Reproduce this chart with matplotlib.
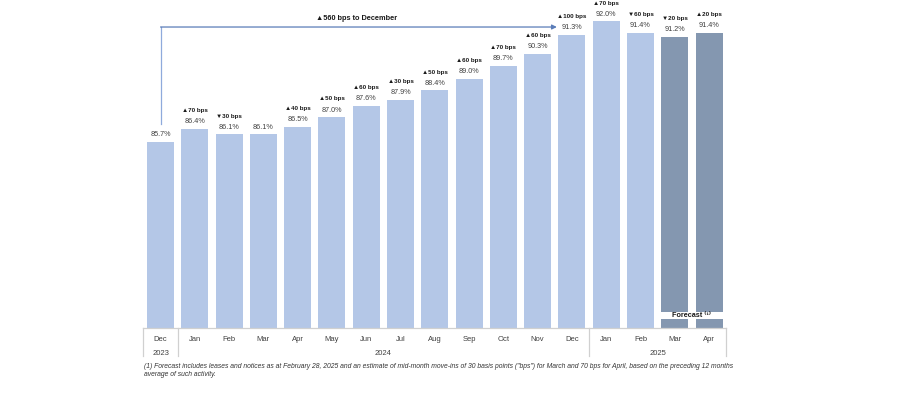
import numpy as np
import matplotlib.pyplot as plt
from matplotlib.patches import Rectangle

plt.rcParams['font.family'] = ['Liberation Sans', 'DejaVu Sans']

months = ["Dec", "Jan", "Feb", "Mar", "Apr", "May", "Jun", "Jul", "Aug",
          "Sep", "Oct", "Nov", "Dec", "Jan", "Feb", "Mar", "Apr"]
values = [85.7, 86.4, 86.1, 86.1, 86.5, 87.0, 87.6, 87.9, 88.4,
          89.0, 89.7, 90.3, 91.3, 92.0, 91.4, 91.2, 91.4]
changes = [None, "▲70 bps", "▼30 bps", None, "▲40 bps", "▲50 bps", "▲60 bps",
           "▲30 bps", "▲50 bps", "▲60 bps", "▲70 bps", "▲60 bps", "▲100 bps",
           "▲70 bps", "▼60 bps", "▼20 bps", "▲20 bps"]
forecast = [False] * 15 + [True, True]
years = ["2023", "2024", "2025"]
year_spans = [(0, 0), (1, 12), (13, 16)]
total_note = "▲560 bps to December"
footnote = ("(1) Forecast includes leases and notices as at February 28, 2025 and an estimate of "
            "mid-month move-ins of 30 basis points (\"bps\") for March and 70 bps for April, based on the preceding 12 months\n"
            "average of such activity.")

W, H = 913, 393
fig = plt.figure(figsize=(W / 100, H / 100), dpi=100)
ax = fig.add_axes([143.4 / W, (H - 328) / H, 582.8 / W, 328 / H])

x = np.arange(len(values))
ymin, ymax = 76.0, 93.12
colors = ["#8497B0" if f else "#B4C7E7" for f in forecast]
ax.bar(x, np.array(values) - ymin, bottom=ymin, width=0.79, color=colors)
ax.set_xlim(-0.5, len(values) - 0.5)
ax.set_ylim(ymin, ymax)
ax.axis("off")

for xi, v, c in zip(x, values, changes):
    ax.annotate(f"{v:.1f}%", (xi, v), xytext=(0, 5.2), textcoords="offset points",
                ha="center", va="center", fontsize=5.2, color="#404040")
    if c:
        ax.annotate(c, (xi, v), xytext=(0, 13.2), textcoords="offset points",
                    ha="center", va="center", fontsize=4.5, fontweight="bold", color="#1a1a1a")

# bracket arrow from Dec 2023 to Dec 2024
arrow_y = 91.71
ax.plot([0, 0], [values[0] + 0.95, arrow_y], color="#8FAADC", lw=0.9)
ax.annotate("", xy=(11.56, arrow_y), xytext=(0, arrow_y),
            arrowprops=dict(arrowstyle="-|>", color="#5B7DB8", lw=0.9,
                            mutation_scale=7, shrinkA=0, shrinkB=0))
ax.text(5.73, 92.13, total_note, ha="center", va="center", fontsize=5.3,
        fontweight="bold", color="#1a1a1a")

# forecast box over Mar/Apr
ax.add_patch(Rectangle((15 - 0.395, 76.47), 1.79, 0.37, facecolor="white",
                       edgecolor="none", zorder=3))
ax.text(15.5, 76.655, "Forecast ⁽¹⁾", ha="center", va="center", fontsize=5.2,
        fontweight="bold", color="#1a1a1a", zorder=4)

# category axis
trans = ax.get_xaxis_transform()
grid_c = "#D0D0D0"
ax.plot([-0.5, len(values) - 0.5], [0, 0], transform=trans, color=grid_c, lw=0.9, clip_on=False)
for xi, m in zip(x, months):
    ax.text(xi, -0.034, m, transform=trans, ha="center", va="center", fontsize=5.5, color="#404040")
for (a, b), yr in zip(year_spans, years):
    ax.text((a + b) / 2, -0.077, yr, transform=trans, ha="center", va="center",
            fontsize=5.5, color="#404040")
for sep in [-0.5, 0.5, 12.5, len(values) - 0.5]:
    ax.plot([sep, sep], [0, -0.085], transform=trans, color=grid_c, lw=0.9, clip_on=False)

fig.text(144 / W, 1 - 370.5 / H, footnote, ha="left", va="center", fontsize=4.85,
         style="italic", color="#333333", linespacing=1.3)

fig.savefig("out.png", dpi=100)
